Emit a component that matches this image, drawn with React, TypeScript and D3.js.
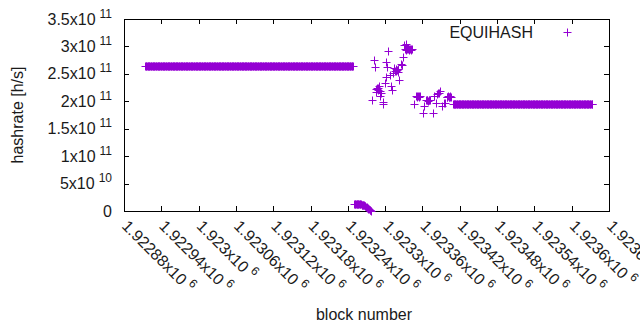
import React from "react";
import * as d3 from "d3";

// block number ticks (every 60 blocks)
const xTicks = [
  1922880, 1922940, 1923000, 1923060, 1923120, 1923180, 1923240,
  1923300, 1923360, 1923420, 1923480, 1923540, 1923600, 1923660,
];
const yTicks = [0, 5e10, 1e11, 1.5e11, 2e11, 2.5e11, 3e11, 3.5e11];
const yTickMant = ["0", "5x10", "1x10", "1.5x10", "2x10", "2.5x10", "3x10", "3.5x10"];
const yTickExp = ["", "10", "11", "11", "11", "11", "11", "11"];

// runs of blocks where the hashrate stays constant
const flatFrom = [1922914, 1923409];
const flatTo = [1923248, 1923633];
const flatValue = [2.638e11, 1.945e11];

// the drop right after the first run
const dropBlocks = [
  1923250, 1923251, 1923252, 1923253, 1923254, 1923255, 1923256, 1923257,
  1923258, 1923259, 1923260, 1923261, 1923262, 1923263, 1923264, 1923265,
  1923266, 1923267, 1923268, 1923269, 1923270, 1923271, 1923272, 1923273,
  1923274, 1923275, 1923276, 1923277,
];
const dropValues = [
  1.3e10, 1.3e10, 1.29e10, 1.29e10, 1.28e10, 1.28e10, 1.27e10, 1.26e10,
  1.25e10, 1.24e10, 1.22e10, 1.2e10, 1.17e10, 1.14e10, 1.1e10, 1.06e10,
  1.01e10, 0.95e10, 0.88e10, 0.8e10, 0.72e10, 0.63e10, 0.53e10, 0.43e10,
  0.33e10, 0.22e10, 0.12e10, 0.02e10,
];

// the scattered part between the two runs
const scatterBlocks = [
  1923279, 1923282, 1923284, 1923285, 1923286, 1923287, 1923288, 1923289,
  1923290, 1923291, 1923292, 1923294, 1923296, 1923297, 1923300, 1923301,
  1923302, 1923303, 1923305, 1923308, 1923310, 1923311, 1923313, 1923315,
  1923316, 1923317, 1923318, 1923319, 1923320, 1923321, 1923323, 1923326,
  1923327, 1923328, 1923331, 1923333, 1923332, 1923334, 1923335, 1923336,
  1923337, 1923338, 1923339, 1923340, 1923341, 1923342, 1923343, 1923346,
  1923350, 1923351, 1923352, 1923353, 1923354, 1923355, 1923356, 1923361,
  1923362, 1923366, 1923367, 1923368, 1923369, 1923370, 1923371, 1923372,
  1923377, 1923379, 1923381, 1923384, 1923385, 1923386, 1923388, 1923392,
  1923394, 1923396, 1923399, 1923400, 1923401, 1923402, 1923403, 1923404,
  1923405, 1923406,
];
const scatterValues = [
  2.02e11, 2.76e11, 2.63e11, 2.17e11, 2.22e11, 2.24e11, 2.21e11, 2.25e11,
  2.27e11, 2.09e11, 2.19e11, 2.15e11, 1.99e11, 1.95e11, 2.34e11, 2.44e11,
  2.71e11, 2.63e11, 2.91e11, 2.48e11, 2.27e11, 2.21e11, 2.51e11, 2.6e11,
  2.56e11, 2.58e11, 2.55e11, 2.57e11, 2.54e11, 2.58e11, 2.39e11, 2.68e11,
  2.67e11, 2.81e11, 3.03e11, 3.05e11, 2.96e11, 2.94e11, 2.95e11, 2.97e11,
  2.95e11, 2.94e11, 2.96e11, 2.95e11, 2.94e11, 2.95e11, 2.95e11, 1.95e11,
  2.09e11, 2.1e11, 2.08e11, 2.09e11, 2.1e11, 2.08e11, 2.09e11, 1.79e11,
  1.91e11, 2.03e11, 2.02e11, 2.03e11, 2.01e11, 2.03e11, 2.02e11, 2.02e11,
  1.79e11, 2.1e11, 1.97e11, 2.13e11, 2.15e11, 2.16e11, 2.19e11, 1.91e11,
  1.97e11, 1.96e11, 2.08e11, 2.07e11, 2.09e11, 2.08e11, 2.07e11, 2.08e11,
  2.09e11, 2.07e11,
];

const W = 640;
const H = 330;
const left = 124, right = 609, top = 19, bottom = 211;
const color = "#9400d3";
const font = "'Liberation Sans', Arial, sans-serif";

export default function App() {
  const x = d3.scaleLinear().domain([1922880, 1923660]).range([left, right]);
  const y = d3.scaleLinear().domain([0, 3.5e11]).range([bottom, top]);

  const points: [number, number][] = [];
  flatFrom.forEach((f, i) => {
    for (let b = f; b <= flatTo[i]; b++) points.push([b, flatValue[i]]);
  });
  dropBlocks.forEach((b, i) => points.push([b, dropValues[i]]));
  scatterBlocks.forEach((b, i) => points.push([b, scatterValues[i]]));

  // gnuplot style "+" snapped to the pixel grid
  const plus = (px: number, py: number) => {
    const cx = Math.round(px) + 0.5;
    const cy = Math.round(py) + 0.5;
    return `M${cx - 4},${cy}H${cx + 4}M${cx},${cy - 4}V${cy + 4}`;
  };
  const markerPath = points.map(([b, v]) => plus(x(b), y(v))).join("");

  return (
    <svg width={W} height={H} style={{ position: "absolute", left: 0, top: 0, background: "#fff" }}
      fontFamily={font} fontSize={16} fill="#1a1a1a">
      {/* ticks, mirrored on all sides */}
      <g stroke="#000" strokeWidth={1}>
        {yTicks.slice(1, -1).map((t) => (
          <g key={"y" + t}>
            <line x1={left} x2={left + 5} y1={Math.round(y(t)) + 0.5} y2={Math.round(y(t)) + 0.5} />
            <line x1={right - 5} x2={right} y1={Math.round(y(t)) + 0.5} y2={Math.round(y(t)) + 0.5} />
          </g>
        ))}
        {xTicks.slice(1, -1).map((t) => (
          <g key={"x" + t}>
            <line x1={Math.round(x(t)) + 0.5} x2={Math.round(x(t)) + 0.5} y1={bottom} y2={bottom - 5} />
            <line x1={Math.round(x(t)) + 0.5} x2={Math.round(x(t)) + 0.5} y1={top} y2={top + 5} />
          </g>
        ))}
        <rect x={left + 0.5} y={top + 0.5} width={right - left} height={bottom - top} fill="none" />
      </g>

      {/* y tick labels */}
      {yTicks.map((t, i) => (
        <text key={"yl" + t} x={112} y={y(t)} dy="0.35em" textAnchor="end">
          {yTickMant[i]}
          {yTickExp[i] && (
            <tspan dx={4} dy={-7} fontSize={12}>{yTickExp[i]}</tspan>
          )}
        </text>
      ))}

      {/* x tick labels, rotated */}
      {xTicks.map((t) => (
        <text key={"xl" + t} transform={`translate(${x(t) + 1},${223}) rotate(45)`} dy="0.35em">
          {`${+(t / 1e6).toFixed(5)}x10`}
          <tspan dx={4} dy={-7} fontSize={12}>6</tspan>
        </text>
      ))}

      {/* axis titles */}
      <text x={364} y={320} textAnchor="middle">block number</text>
      <text transform={`translate(23,115) rotate(-90)`} textAnchor="middle">hashrate [h/s]</text>

      {/* data */}
      <path d={markerPath} stroke={color} strokeWidth={1} fill="none" />

      {/* legend */}
      <text x={533} y={32} dy="0.35em" textAnchor="end">EQUIHASH</text>
      <path d={plus(567, 32)} stroke={color} strokeWidth={1} fill="none" />
    </svg>
  );
}
